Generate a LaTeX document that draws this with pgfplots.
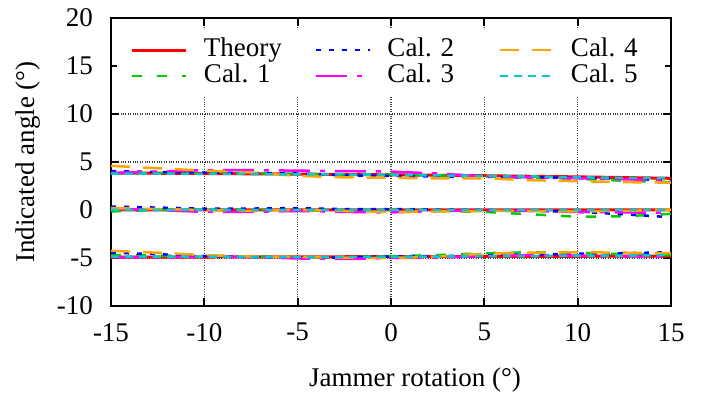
\documentclass[border=0pt]{standalone}
\usepackage{pgfplots}
\pgfplotsset{compat=1.18}
\usepackage{pgfplotstable}
\usepackage{fontspec}
\setmainfont{Liberation Serif}
\definecolor{gpgreen}{RGB}{0,205,0}
\definecolor{gpblue}{RGB}{0,0,255}
\definecolor{gpmag}{RGB}{255,0,255}
\definecolor{gporange}{RGB}{255,165,0}
\definecolor{gpcyan}{RGB}{0,200,205}

\pgfplotstableread{
x     th     c1     c2     c3     c4     c5
-15   3.85   3.80   4.05   3.85   4.60   3.80
-12.5 3.83   3.85   3.95   4.00   4.35   3.80
-10   3.80   3.90   3.90   4.15   4.10   3.75
-7.5  3.77   3.85   3.85   4.15   3.90   3.75
-5    3.74   3.75   3.80   4.10   3.55   3.70
-2.5  3.70   3.70   3.60   4.05   3.40   3.70
0     3.66   3.70   3.55   4.00   3.35   3.65
2.5   3.62   3.60   3.50   3.80   3.30   3.60
5     3.57   3.50   3.45   3.50   3.30   3.55
7.5   3.51   3.35   3.40   3.40   3.10   3.50
10    3.45   3.25   3.35   3.30   3.00   3.40
12.5  3.38   3.05   3.25   3.20   2.90   3.35
15    3.30   2.90   3.10   3.10   2.85   3.30
nan   nan    nan    nan    nan    nan    nan
-15   0      -0.15  0.35   0.10   0.20   0.00
-12.5 0      0.00   0.25   0.00   0.10   0.00
-10   0      0.10   0.15   -0.20  0.00   0.05
-7.5  0      0.00   0.15   -0.20  -0.10  0.00
-5    0      -0.10  0.20   -0.10  0.00   0.00
-2.5  0      0.00   0.10   -0.20  -0.10  0.00
0     0      0.00   0.10   -0.25  -0.20  0.00
2.5   0      -0.10  0.05   -0.10  -0.15  0.00
5     0      -0.20  0.00   -0.10  -0.10  0.00
7.5   0      -0.45  -0.10  -0.10  -0.10  0.00
10    0      -0.70  -0.20  -0.20  -0.15  0.00
12.5  0      -0.65  -0.45  -0.25  -0.10  0.00
15    0      -0.40  -0.75  -0.30  0.05   0.00
nan   nan    nan    nan    nan    nan    nan
-15   -4.90  -4.70  -4.45  -4.90  -4.25  -4.85
-12.5 -4.90  -4.75  -4.60  -4.90  -4.45  -4.85
-10   -4.90  -4.80  -4.80  -4.85  -4.70  -4.85
-7.5  -4.88  -4.85  -4.90  -4.90  -4.85  -4.90
-5    -4.88  -4.90  -5.00  -5.05  -4.90  -4.90
-2.5  -4.87  -4.90  -4.95  -5.10  -4.95  -4.90
0     -4.86  -4.80  -4.85  -5.00  -5.00  -4.85
2.5   -4.85  -4.70  -4.80  -4.95  -4.85  -4.85
5     -4.84  -4.50  -4.70  -4.80  -4.55  -4.80
7.5   -4.83  -4.40  -4.65  -4.70  -4.45  -4.80
10    -4.82  -4.45  -4.55  -4.75  -4.40  -4.75
12.5  -4.81  -4.60  -4.50  -4.80  -4.45  -4.75
15    -4.80  -4.70  -4.40  -4.90  -4.50  -4.70
}\datatab

\begin{document}
\begin{tikzpicture}[font=\fontsize{27}{32}\selectfont]
\useasboundingbox (-111pt,-92pt) rectangle (603pt,306pt);
\begin{axis}[
  scale only axis, width=560pt, height=288pt,
  at={(0pt,0pt)}, anchor=south west,
  xmin=-15, xmax=15, ymin=-10, ymax=20,
  xtick={-15,-10,-5,0,5,10,15},
  ytick={-10,-5,0,5,10,15,20},
  xticklabels={-15,-10,-5,0,5,10,15},
  yticklabels={-10,-5,0,5,10,15,20},
  /pgf/number format/assume math mode=true,
  tick align=inside, major tick length=8pt,
  axis line style={line width=2.8pt},
  every tick/.style={line width=2pt, black},
  grid=major, grid style={dotted, line width=1.3pt, black!75},
  xticklabel style={inner sep=0pt, anchor=north, yshift=-17pt},
  yticklabel style={inner sep=0pt, anchor=east, xshift=-18pt},
  xlabel={Jammer rotation (°)},
  ylabel={Indicated angle (°)},
  every axis x label/.style={at={(axis description cs:0.5,0)}, anchor=north, inner sep=0pt, yshift=-62pt, xshift=24pt},
  every axis y label/.style={at={(axis description cs:0,0.5)}, xshift=-83pt, rotate=90, anchor=center, inner sep=0pt},
  unbounded coords=jump,
  no marks,
  legend columns=2, transpose legend,
  legend cell align=left,
  legend image code/.code={\draw[#1] (0pt,0pt) -- (54pt,0pt);},
  legend style={at={(0.5,0.959)}, anchor=north, fill=white, draw=none,
    inner xsep=14pt, inner ysep=7pt,
    nodes={inner sep=0pt, text height=19pt, text depth=7pt},
    /tikz/every odd column/.append style={column sep=16pt},
    /tikz/every even column/.append style={column sep=31pt, text width=80pt},
    row sep=0pt},
]
\addplot[red, line width=3pt] table[x=x, y=th]{\datatab};
\addlegendentry{Theory}
\addplot[gpgreen, line width=2.5pt, dash pattern=on 10pt off 15pt] table[x=x, y=c1]{\datatab};
\addlegendentry{Cal.\ 1}
\addplot[gpblue, line width=2.5pt, dash pattern=on 5pt off 8pt] table[x=x, y=c2]{\datatab};
\addlegendentry{Cal.\ 2}
\addplot[gpmag, line width=2.5pt, dash pattern=on 31pt off 10pt on 5pt off 10pt] table[x=x, y=c3]{\datatab};
\addlegendentry{Cal.\ 3}
\addplot[gporange, line width=2.5pt, dash pattern=on 19pt off 13pt] table[x=x, y=c4]{\datatab};
\addlegendentry{Cal.\ 4}
\addplot[gpcyan, line width=2.5pt, dash pattern=on 8pt off 6pt] table[x=x, y=c5]{\datatab};
\addlegendentry{Cal.\ 5}
\end{axis}
\end{tikzpicture}
\end{document}
